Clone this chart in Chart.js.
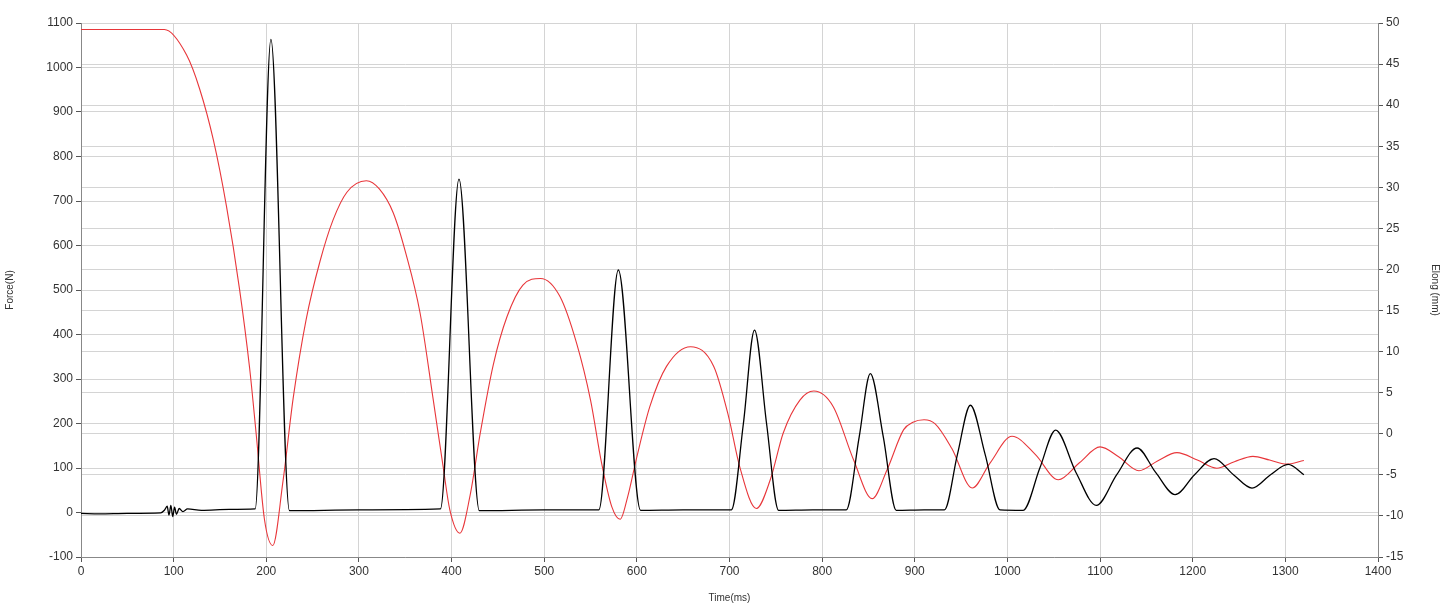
<!DOCTYPE html>
<html>
<head>
<meta charset="utf-8">
<script src="https://cdn.jsdelivr.net/npm/chart.js@4"></script>
<style>
  html, body { margin: 0; padding: 0; background: #fff; }
  #wrap { width: 1445px; height: 608px; }
</style>
</head>
<body>
<div id="wrap"><canvas id="chart"></canvas></div>
<script>
// Force (N) vs time (ms) - black trace
const forceTime = [0, 20, 50, 86, 90, 93, 95, 97, 99, 101, 103, 106, 110, 115, 130, 160, 188, 205, 225,
  300, 388, 408, 430, 500, 559, 580, 604, 650, 702, 715, 727, 740, 753, 790, 826, 840, 852, 866, 880,
  910, 932, 946, 960, 976, 992, 1017, 1035, 1052, 1074, 1096, 1118, 1140, 1160, 1181, 1202, 1223, 1244,
  1264, 1284, 1303, 1320];
const forceValues = [-2, -3, -2, -1, 5, 14, -6, 16, -9, 12, -4, 9, 2, 8, 5, 7, 8, 1063, 4,
  6, 8, 749, 4, 6, 6, 545, 5, 6, 6, 200, 410, 200, 5, 6, 6, 170, 312, 170, 5,
  6, 6, 130, 241, 130, 6, 5, 100, 185, 90, 16, 85, 145, 90, 40, 85, 121, 85,
  55, 85, 108, 85];

// Elongation (mm) vs time (ms) - red trace
const elongTime = [0, 90, 114, 128, 143, 157, 171, 182, 189, 198, 207, 218, 229, 243, 258, 272, 287, 308,
  322, 337, 351, 366, 380, 391, 398, 409, 420, 431, 445, 460, 477, 496, 517, 535, 550, 562, 573, 582,
  590, 600, 614, 632, 658, 683, 699, 711, 729, 744, 758, 776, 791, 812, 834, 854, 870, 888, 898, 910, 922, 940,
  962, 981, 1005, 1030, 1055, 1078, 1100, 1120, 1142, 1162, 1183, 1205, 1226, 1245, 1265, 1283, 1301, 1320];
const elongValues = [49.2, 49.2, 46.1, 42.0, 35.7, 27.7, 17.7, 8.0, 0.1, -10.4, -13.6, -5.8, 4.3, 13.9, 21.0, 26.0, 29.4, 30.8,
  29.8, 26.9, 21.8, 14.7, 4.3, -4.1, -9.2, -12.1, -7.5, 0.1, 8.4, 14.3, 18.1, 18.9, 16.7, 11.0, 4.1, -3.6, -8.9, -10.4,
  -7.7, -2.8, 3.3, 8.2, 10.6, 8.2, 2.1, -4.0, -9.1, -5.6, 0.1, 4.1, 5.2, 3.3, -3.2, -7.9, -4.4, 0.5, 1.4, 1.7, 1.2, -1.8,
  -6.6, -3.6, -0.3, -2.5, -5.6, -3.5, -1.6, -2.8, -4.5, -3.3, -2.3, -3.2, -4.2, -3.4, -2.75, -3.2, -3.7, -3.25];

const xTicks = [0, 1400, 100];
const forceRange = [-100, 1100, 100];
const elongRange = [-15, 50, 5];

const toPoints = (xs, ys) => xs.map((x, i) => ({ x: x, y: ys[i] }));
const plain = (v) => String(v);

const tickFont = { family: 'Arial, "Liberation Sans", sans-serif', size: 12 };
const titleFont = { family: 'Arial, "Liberation Sans", sans-serif', size: 10 };
const gridStyle = { color: '#d4d4d4', tickColor: '#555', tickLength: 5 };
const borderStyle = { color: '#888', width: 1 };

new Chart(document.getElementById('chart').getContext('2d'), {
  type: 'line',
  data: {
    datasets: [
      {
        label: 'Force',
        data: toPoints(forceTime, forceValues),
        borderColor: '#000000',
        borderWidth: 1.3,
        pointRadius: 0,
        cubicInterpolationMode: 'monotone',
        yAxisID: 'y'
      },
      {
        label: 'Elong',
        data: toPoints(elongTime, elongValues),
        borderColor: '#e8363a',
        borderWidth: 1.1,
        pointRadius: 0,
        cubicInterpolationMode: 'monotone',
        yAxisID: 'y2'
      }
    ]
  },
  options: {
    responsive: true,
    maintainAspectRatio: false,
    animation: false,
    layout: { padding: { top: 23, right: 0, left: 0, bottom: 0 } },
    plugins: { legend: { display: false }, tooltip: { enabled: false } },
    scales: {
      x: {
        type: 'linear',
        min: xTicks[0], max: xTicks[1],
        ticks: { stepSize: xTicks[2], color: '#333', font: tickFont, maxRotation: 0, padding: 2, callback: plain },
        grid: gridStyle,
        border: borderStyle,
        title: { display: true, text: 'Time(ms)', color: '#333', font: titleFont, padding: { top: 0 } },
        afterFit: (s) => { s.height = 51; }
      },
      y: {
        position: 'left',
        min: forceRange[0], max: forceRange[1],
        ticks: { stepSize: forceRange[2], color: '#333', font: tickFont, padding: 3, callback: plain },
        grid: gridStyle,
        border: borderStyle,
        title: { display: true, text: 'Force(N)', color: '#333', font: titleFont },
        afterFit: (s) => { s.width = 81; }
      },
      y2: {
        position: 'right',
        min: elongRange[0], max: elongRange[1],
        ticks: { stepSize: elongRange[2], color: '#333', font: tickFont, padding: 3, callback: plain },
        grid: { color: '#d4d4d4', tickColor: '#555', tickLength: 5, drawOnChartArea: true },
        border: borderStyle,
        title: { display: true, text: 'Elong (mm)', color: '#333', font: titleFont },
        afterFit: (s) => { s.width = 67; }
      }
    }
  }
});
</script>
</body>
</html>
